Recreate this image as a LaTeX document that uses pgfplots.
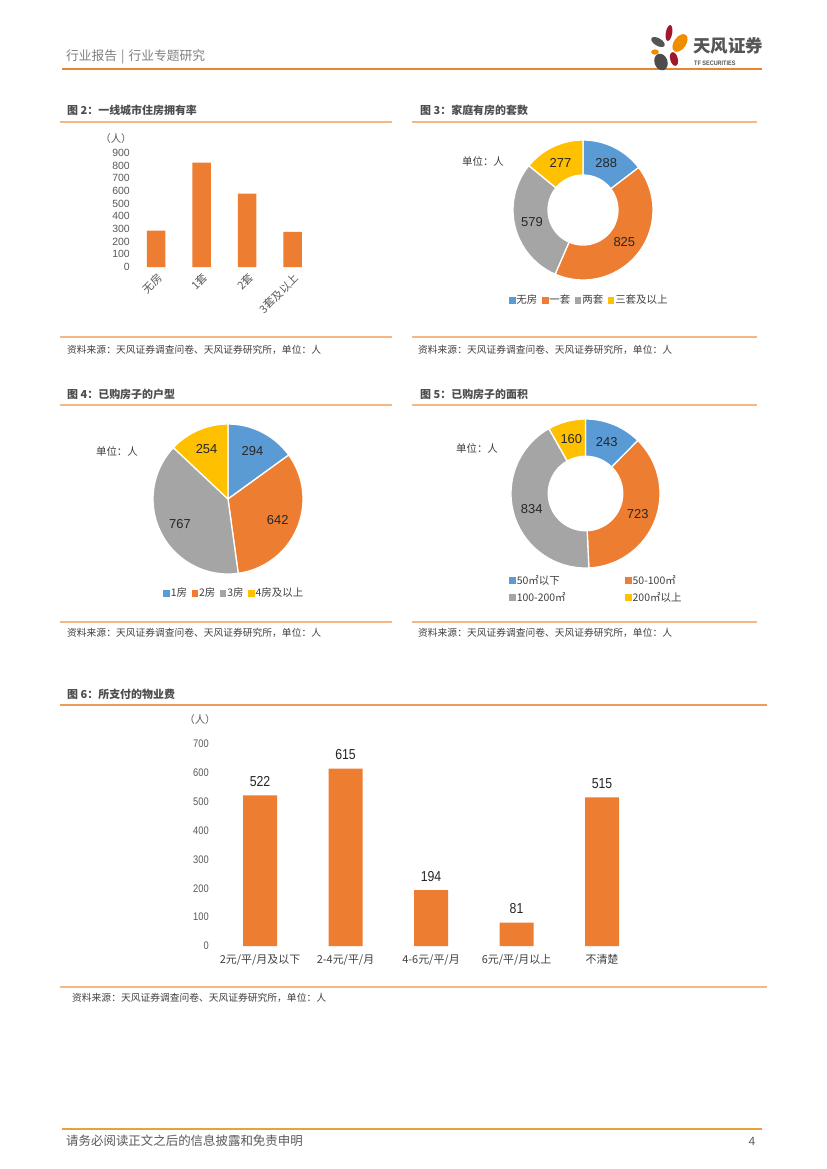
\documentclass[border=0pt]{standalone}
\usepackage{pgfplots}
\pgfplotsset{compat=1.18}
\usepackage{fontspec}
\setmainfont{Liberation Sans}
\newfontfamily\cjk{Noto Sans CJK SC}
\newfontfamily\narrow[FakeStretch=0.85]{Liberation Sans}
\definecolor{cblue}{HTML}{5B9BD5}
\definecolor{corange}{HTML}{ED7D31}
\definecolor{cgray}{HTML}{A5A5A5}
\definecolor{cyellow}{HTML}{FFC000}
\definecolor{hdrline}{HTML}{E8852F}
\definecolor{panelline}{HTML}{F3B886}
\definecolor{txt}{HTML}{404040}
\definecolor{ticktxt}{HTML}{595959}
\definecolor{hdrtxt}{HTML}{7F7F7F}
\definecolor{titletxt}{HTML}{4D4D4D}
\definecolor{footline}{HTML}{E9A23B}
\definecolor{logored}{HTML}{A0182C}
\definecolor{logoorange}{HTML}{F08C00}
\definecolor{logogray}{HTML}{555555}
\definecolor{lbl}{HTML}{262626}

% donut / pie slices drawn in axis coordinates (1 unit = \R)
\newcommand\ringslices[3]{%
  \gdef\tot{0}%
  \foreach \v/\c in {#1}{\pgfmathsetmacro\t{\tot+\v}\xdef\tot{\t}}%
  \gdef\cum{0}%
  \foreach \v/\c in {#1}{%
    \pgfmathsetmacro\fA{\cum/\tot}%
    \pgfmathsetmacro\fB{(\cum+\v)/\tot}%
    \pgfmathsetmacro\aA{90-360*\fA}%
    \pgfmathsetmacro\aB{90-360*\fB}%
    \pgfmathsetmacro\aM{(\aA+\aB)/2}%
    \fill[\c, draw=white, line width=1.3bp, line join=round]
      (axis cs:{#2*cos(\aA)},{#2*sin(\aA)}) -- (axis cs:{cos(\aA)},{sin(\aA)})
      arc[start angle=\aA, end angle=\aB, radius=\R]
      -- (axis cs:{#2*cos(\aB)},{#2*sin(\aB)})
      arc[start angle=\aB, end angle=\aA, radius=#2*\R] -- cycle;
    \node[font=\fontsize{13}{15}\selectfont, text=lbl] at (axis cs:{#3*cos(\aM)},{#3*sin(\aM)}) {\v};
    \pgfmathsetmacro\nc{\cum+\v}\xdef\cum{\nc}%
  }%
}
\pgfplotsset{
  piestyle/.style={scale only axis, hide axis, clip=false,
    xmin=-1, xmax=1, ymin=-1, ymax=1,
    legend image code/.code={\fill[##1] (0bp,-2.8bp) rectangle (5.6bp,2.8bp);},
    legend style={draw=none, fill=none, inner sep=0pt,
      font=\cjk\fontsize{10.5}{12}\selectfont, text=txt,
      nodes={inner sep=1.5bp}}},
}
\begin{document}
\begin{tikzpicture}
\useasboundingbox (0,0) rectangle (827bp,-1169bp);
\fill[white] (0,0) rectangle (827bp,-1169bp);

\begin{scope}[x=1bp,y=-1bp]
% header
\node[anchor=west, font=\cjk\fontsize{12.8}{14}\selectfont, text=hdrtxt, inner sep=0] at (66,57) {行业报告\hspace{4bp}|\hspace{4bp}行业专题研究};
\draw[hdrline, line width=2bp] (62,69) -- (762,69);
% logo
\fill[logored, rotate around={-10:(669,33)}] (669,33) ellipse [x radius=3.2bp, y radius=8bp];
\fill[logogray, rotate around={-30:(658,42)}] (658,42) ellipse [x radius=7.5bp, y radius=3.8bp];
\fill[logoorange, rotate around={-35:(680,43)}] (680,43) ellipse [x radius=6bp, y radius=10bp];
\fill[logoorange] (655,52) ellipse [x radius=3.8bp, y radius=2.7bp];
\fill[logogray!90!black, rotate around={20:(661,62)}] (661,62) ellipse [x radius=6.5bp, y radius=8.5bp];
\fill[logored, rotate around={15:(674,59)}] (674,59) ellipse [x radius=3.8bp, y radius=7bp];
\node[anchor=west, font=\cjk\bfseries\fontsize{17.5}{19}\selectfont, text=logogray, inner sep=0] at (693,46) {天风证券};
\node[anchor=west, font=\narrow\bfseries\fontsize{6.5}{7}\selectfont, text=logogray, inner sep=0] at (694,63) {TF SECURITIES};

% panel titles and lines
\node[anchor=west, font=\cjk\bfseries\fontsize{11}{13}\selectfont, text=titletxt, inner sep=0] at (67,110) {图 2：一线城市住房拥有率};
\node[anchor=west, font=\cjk\bfseries\fontsize{11}{13}\selectfont, text=titletxt, inner sep=0] at (420,110) {图 3：家庭有房的套数};
\draw[panelline, line width=1.3bp] (60,122) -- (392,122);
\draw[panelline, line width=1.3bp] (412,122) -- (757,122);
\draw[panelline, line width=1.3bp] (60,337) -- (392,337);
\draw[panelline, line width=1.3bp] (412,337) -- (757,337);
\node[anchor=west, font=\cjk\fontsize{9.8}{11}\selectfont, text=txt, inner sep=0] at (67,350) {资料来源：天风证券调查问卷、天风证券研究所，单位：人};
\node[anchor=west, font=\cjk\fontsize{9.8}{11}\selectfont, text=txt, inner sep=0] at (418,350) {资料来源：天风证券调查问卷、天风证券研究所，单位：人};

\node[anchor=west, font=\cjk\bfseries\fontsize{11}{13}\selectfont, text=titletxt, inner sep=0] at (67,394) {图 4：已购房子的户型};
\node[anchor=west, font=\cjk\bfseries\fontsize{11}{13}\selectfont, text=titletxt, inner sep=0] at (420,394) {图 5：已购房子的面积};
\draw[panelline, line width=1.3bp] (60,405) -- (392,405);
\draw[panelline, line width=1.3bp] (412,405) -- (757,405);
\draw[panelline, line width=1.3bp] (60,622) -- (392,622);
\draw[panelline, line width=1.3bp] (412,622) -- (757,622);
\node[anchor=west, font=\cjk\fontsize{9.8}{11}\selectfont, text=txt, inner sep=0] at (67,633) {资料来源：天风证券调查问卷、天风证券研究所，单位：人};
\node[anchor=west, font=\cjk\fontsize{9.8}{11}\selectfont, text=txt, inner sep=0] at (418,633) {资料来源：天风证券调查问卷、天风证券研究所，单位：人};

\node[anchor=west, font=\cjk\bfseries\fontsize{11}{13}\selectfont, text=titletxt, inner sep=0] at (67,694) {图 6：所支付的物业费};
\draw[hdrline!80!white, line width=1.3bp] (60,705) -- (767,705);
\draw[panelline, line width=1.3bp] (60,987) -- (767,987);
\node[anchor=west, font=\cjk\fontsize{9.8}{11}\selectfont, text=txt, inner sep=0] at (72,998) {资料来源：天风证券调查问卷、天风证券研究所，单位：人};

% units
\node[font=\cjk\fontsize{10.5}{12}\selectfont, text=ticktxt] at (116,139) {（人）};
\node[font=\cjk\fontsize{10.5}{12}\selectfont, text=txt] at (483,161) {单位：人};
\node[font=\cjk\fontsize{10.5}{12}\selectfont, text=txt] at (117,451) {单位：人};
\node[font=\cjk\fontsize{10.5}{12}\selectfont, text=txt] at (477,448) {单位：人};
\node[font=\cjk\fontsize{10.5}{12}\selectfont, text=ticktxt] at (200,720) {（人）};

% footer
\draw[footline, line width=2bp] (62,1129) -- (762,1129);
\node[anchor=west, font=\cjk\fontsize{12.5}{14}\selectfont, text=ticktxt, inner sep=0] at (66,1141) {请务必阅读正文之后的信息披露和免责申明};
\node[font=\fontsize{12}{14}\selectfont, text=ticktxt] at (752,1141) {4};
\end{scope}

% ---------- Figure 2: bar chart ----------
\begin{axis}[at={(133.25bp,-267bp)}, anchor=south west, scale only axis,
  width=182bp, height=114bp, xmin=-0.5, xmax=3.5, ymin=0, ymax=900,
  ytick={0,100,...,900}, xtick={0,1,2,3},
  xticklabels={无房,1套,2套,3套及以上},
  xticklabel style={xshift=5bp, yshift=-8bp, rotate=45, anchor=east, inner sep=1bp,
    font=\cjk\fontsize{11}{12}\selectfont, text=ticktxt},
  yticklabel style={font=\fontsize{10.5}{12}\selectfont, text=ticktxt},
  /pgf/number format/assume math mode=true,
  axis lines=left, axis line style={draw=none}, major tick length=0pt,
  ybar, bar width=18.5bp]
\addplot[fill=corange, draw=none] coordinates {(0,288) (1,825) (2,579) (3,277)};
\end{axis}

% ---------- Figure 3: donut ----------
\def\R{70bp}
\begin{axis}[piestyle, at={(513bp,-280bp)}, anchor=south west, width=140bp, height=140bp,
  legend columns=4,
  legend style={at={(0.543,-0.143)}, anchor=center,
    /tikz/every even column/.append style={column sep=3bp}}]
\pgfplotsextra{\ringslices{288/cblue,825/corange,579/cgray,277/cyellow}{0.5}{0.75}}
\addlegendimage{cblue}\addlegendentry{无房}
\addlegendimage{corange}\addlegendentry{一套}
\addlegendimage{cgray}\addlegendentry{两套}
\addlegendimage{cyellow}\addlegendentry{三套及以上}
\end{axis}

% ---------- Figure 4: pie ----------
\def\R{75bp}
\begin{axis}[piestyle, at={(153bp,-574bp)}, anchor=south west, width=150bp, height=150bp,
  legend columns=4,
  legend style={at={(0.54,-0.127)}, anchor=center,
    /tikz/every even column/.append style={column sep=3bp}}]
\pgfplotsextra{\ringslices{294/cblue,642/corange,767/cgray,254/cyellow}{0.001}{0.72}}
\addlegendimage{cblue}\addlegendentry{1房}
\addlegendimage{corange}\addlegendentry{2房}
\addlegendimage{cgray}\addlegendentry{3房}
\addlegendimage{cyellow}\addlegendentry{4房及以上}
\end{axis}

% ---------- Figure 5: donut ----------
\def\R{74.5bp}
\begin{axis}[piestyle, at={(511bp,-568bp)}, anchor=south west, width=149bp, height=149bp,
  legend columns=2,
  legend style={at={(-0.013,-0.035)}, anchor=north west, legend cell align=left,
    /tikz/every even column/.append style={column sep=58bp}, row sep=3.5bp}]
\pgfplotsextra{\ringslices{243/cblue,723/corange,834/cgray,160/cyellow}{0.5}{0.75}}
\addlegendimage{cblue}\addlegendentry{50㎡以下}
\addlegendimage{corange}\addlegendentry{50-100㎡}
\addlegendimage{cgray}\addlegendentry{100-200㎡}
\addlegendimage{cyellow}\addlegendentry{200㎡以上}
\end{axis}

% ---------- Figure 6: bar chart ----------
\begin{axis}[at={(217.25bp,-946bp)}, anchor=south west, scale only axis,
  width=427.5bp, height=202bp, xmin=-0.5, xmax=4.5, ymin=0, ymax=700,
  ytick={0,100,...,700}, xtick={0,1,2,3,4},
  xticklabels={2元/平/月及以下,2-4元/平/月,4-6元/平/月,6元/平/月以上,不清楚},
  xticklabel style={font=\cjk\fontsize{11}{12}\selectfont, text=txt, yshift=-5bp},
  yticklabel style={font=\narrow\fontsize{11}{12}\selectfont, text=ticktxt, xshift=-5bp},
  /pgf/number format/assume math mode=true,
  axis lines=left, axis line style={draw=none}, major tick length=0pt,
  ybar, bar width=34bp,
  nodes near coords,
  every node near coord/.append style={font=\narrow\fontsize{14.5}{16}\selectfont, text=lbl, yshift=5bp}]
\addplot[fill=corange, draw=none] coordinates {(0,522) (1,615) (2,194) (3,81) (4,515)};
\end{axis}
\end{tikzpicture}
\end{document}
